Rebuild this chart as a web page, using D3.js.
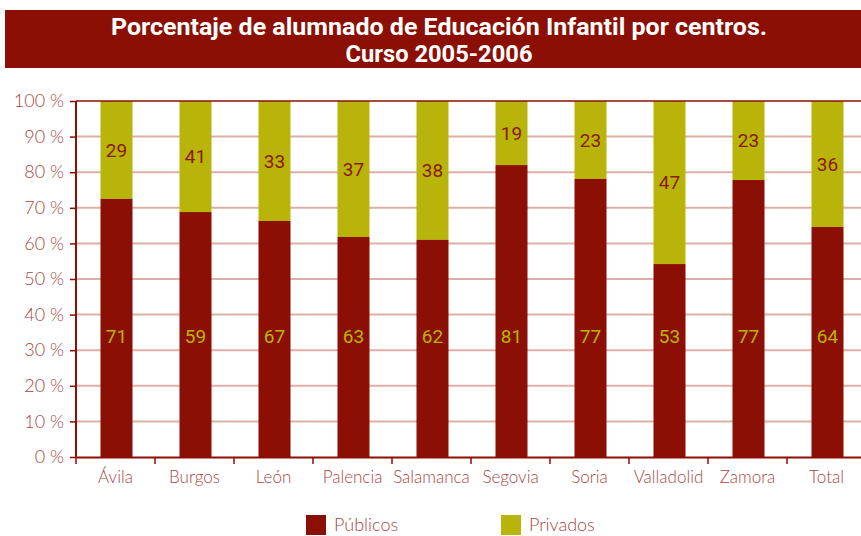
<!DOCTYPE html>
<html>
<head>
<meta charset="utf-8">
<script src="https://cdn.jsdelivr.net/npm/d3@7"></script>
<style>
  body { margin: 0; background: #fff; }
  svg { display: block; }
</style>
</head>
<body>
<div id="chart"></div>
<script>
// data
var provincias = ["Ávila", "Burgos", "León", "Palencia", "Salamanca", "Segovia", "Soria", "Valladolid", "Zamora", "Total"];
// height of the red part as drawn (percent)
var publicos = [72.5, 68.8, 66.3, 61.8, 61.0, 82.0, 78.1, 54.2, 77.8, 64.6];
// numbers printed on the bars
var etiquetasPublicos = [71, 59, 67, 63, 62, 81, 77, 53, 77, 64];
var etiquetasPrivados = [29, 41, 33, 37, 38, 19, 23, 47, 23, 36];
var yTicks = [0, 10, 20, 30, 40, 50, 60, 70, 80, 90, 100];

var W = 861, H = 536;
var rojo = "#8b0f04", oliva = "#b8b409", texto = "#a8473f", rejilla = "#dcb0a6";

var svg = d3.select("#chart").append("svg")
    .attr("width", W)
    .attr("height", H);

// title band
svg.append("rect")
    .attr("x", 5).attr("y", 10)
    .attr("width", W - 5).attr("height", 58)
    .attr("fill", rojo);

svg.append("text")
    .attr("x", 439).attr("y", 35)
    .attr("text-anchor", "middle")
    .attr("textLength", 656).attr("lengthAdjust", "spacingAndGlyphs")
    .style("font", "bold 23px Roboto, sans-serif")
    .attr("fill", "#fff")
    .text("Porcentaje de alumnado de Educación Infantil por centros.");

svg.append("text")
    .attr("x", 439).attr("y", 62)
    .attr("text-anchor", "middle")
    .attr("textLength", 187).attr("lengthAdjust", "spacingAndGlyphs")
    .style("font", "bold 23px Roboto, sans-serif")
    .attr("fill", "#fff")
    .text("Curso 2005-2006");

// scales
var x = d3.scaleBand()
    .domain(provincias)
    .range([76, 866])
    .padding(0);
var y = d3.scaleLinear().domain([0, 100]).range([457, 101]);

var barW = 32;

// grid lines
svg.append("g")
  .selectAll("line")
  .data(yTicks.filter(function(d) { return d > 0 && d < 100; }))
  .enter().append("line")
    .attr("x1", 76).attr("x2", W)
    .attr("y1", function(d) { return y(d); })
    .attr("y2", function(d) { return y(d); })
    .attr("stroke", rejilla)
    .attr("stroke-width", 2);

// y axis
var yAxis = svg.append("g")
    .attr("transform", "translate(76,0)")
    .call(d3.axisLeft(y).tickValues(yTicks).tickSize(6).tickFormat(function(d) { return d + " %"; }));
yAxis.select(".domain").remove();
yAxis.selectAll(".tick line").attr("stroke", rojo).attr("stroke-width", 1.5);
yAxis.selectAll(".tick text")
    .attr("x", -12)
    .attr("fill", texto)
    .style("font", "300 18px Lato, sans-serif");

// bars
var g = svg.append("g");
provincias.forEach(function(p, i) {
  var bx = x(p) + x.bandwidth() / 2 + 1 - barW / 2;
  g.append("rect")
      .attr("x", bx).attr("width", barW)
      .attr("y", y(100)).attr("height", y(publicos[i]) - y(100))
      .attr("fill", oliva);
  g.append("rect")
      .attr("x", bx).attr("width", barW)
      .attr("y", y(publicos[i])).attr("height", y(0) - y(publicos[i]))
      .attr("fill", rojo);
  g.append("text")
      .attr("x", bx + barW / 2)
      .attr("y", y(34))
      .attr("dy", "0.36em")
      .attr("text-anchor", "middle")
      .attr("fill", oliva)
      .style("font", "19px Roboto, sans-serif")
      .text(etiquetasPublicos[i]);
  g.append("text")
      .attr("x", bx + barW / 2)
      .attr("y", (y(100) + y(publicos[i])) / 2)
      .attr("dy", "0.36em")
      .attr("text-anchor", "middle")
      .attr("fill", "#8b1a0a")
      .style("font", "19px Roboto, sans-serif")
      .text(etiquetasPrivados[i]);
});

// top frame line, y axis line and x axis
svg.append("line")
    .attr("x1", 76).attr("x2", W)
    .attr("y1", y(100)).attr("y2", y(100))
    .attr("stroke", rojo).attr("stroke-width", 1.5);
svg.append("line")
    .attr("x1", 76).attr("x2", 76)
    .attr("y1", y(100)).attr("y2", y(0))
    .attr("stroke", rojo).attr("stroke-width", 2);

var xAxis = svg.append("g")
    .attr("transform", "translate(0," + y(0) + ")")
    .call(d3.axisBottom(x).tickSize(0).tickPadding(14));
xAxis.select(".domain").attr("stroke", rojo).attr("stroke-width", 2);
xAxis.selectAll(".tick text")
    .attr("fill", texto)
    .style("font", "300 17px Lato, sans-serif");
// separators between categories
xAxis.selectAll(".sep")
  .data(provincias)
  .enter().append("line")
    .attr("x1", function(d) { return x(d); })
    .attr("x2", function(d) { return x(d); })
    .attr("y1", 0).attr("y2", 7)
    .attr("stroke", rojo).attr("stroke-width", 1.5);

// legend
var leyenda = [{name: "Públicos", color: rojo, x: 306}, {name: "Privados", color: oliva, x: 501}];
var lg = svg.selectAll(".leg").data(leyenda).enter().append("g")
    .attr("transform", function(d) { return "translate(" + d.x + ",515)"; });
lg.append("rect")
    .attr("width", 20).attr("height", 20)
    .attr("fill", function(d) { return d.color; });
lg.append("text")
    .attr("x", 28).attr("y", 16)
    .attr("fill", texto)
    .style("font", "300 18px Lato, sans-serif")
    .text(function(d) { return d.name; });
</script>
</body>
</html>
